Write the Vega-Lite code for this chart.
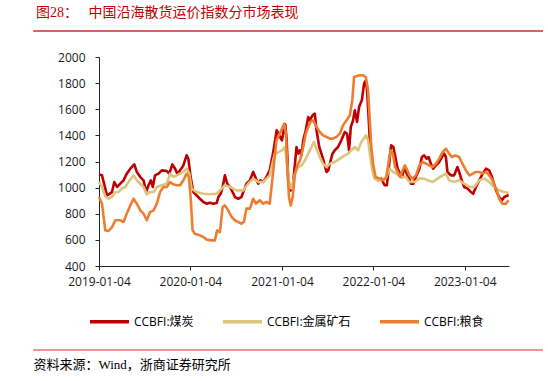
{
"$schema": "https://vega.github.io/schema/vega-lite/v6.json",
"width": 410, "height": 209,
"autosize": {"type": "none"},
"padding": {"left": 99, "top": 57, "right": 39, "bottom": 115},
"background": "white",
"config": {"view": {"stroke": null}, "font": "Open Sans", "axis": {"labelOverlap": false}},
"title": {"text": "图28：　 中国沿海散货运价指数分市场表现", "anchor": "start", "frame": "group", "dx": -63, "offset": 10, "font": "Liberation Serif, Noto Sans CJK SC", "fontSize": 14, "fontWeight": "normal", "color": "#C00000"},
"layer": [
{"data": {"values": [{}]}, "mark": {"type": "rule", "color": "#C8302D", "strokeWidth": 1.5, "clip": false},
 "encoding": {"x": {"datum": {"year": 2018, "month": 4, "date": 16, "utc": true}, "type": "temporal"}, "x2": {"datum": {"year": 2023, "month": 11, "date": 13, "utc": true}},
  "y": {"datum": 2200, "type": "quantitative", "axis": {"values": [400, 600, 800, 1000, 1200, 1400, 1600, 1800, 2000], "format": "d", "labelOverlap": false, "grid": false, "tickSize": 4, "labelPadding": 10, "labelFont": "Open Sans", "labelFontSize": 12, "labelColor": "#1a1a1a", "domainColor": "#262626", "tickColor": "#262626", "title": null, "labelFlush": false}}}},
{"data": {"values": [{}]}, "mark": {"type": "rule", "color": "#E57373", "strokeWidth": 1.5, "clip": false},
 "encoding": {"x": {"datum": {"year": 2018, "month": 4, "date": 16, "utc": true}, "type": "temporal"}, "x2": {"datum": {"year": 2023, "month": 11, "date": 13, "utc": true}},
  "y": {"datum": -243, "type": "quantitative", "axis": {"values": [400, 600, 800, 1000, 1200, 1400, 1600, 1800, 2000], "format": "d", "labelOverlap": false, "grid": false, "tickSize": 4, "labelPadding": 10, "labelFont": "Open Sans", "labelFontSize": 12, "labelColor": "#1a1a1a", "domainColor": "#262626", "tickColor": "#262626", "title": null, "labelFlush": false}}}},
{"data": {"values": [
{"d":"2019-01-04","s":"CCBFI:煤炭","v":1100},{"d":"2019-01-16","s":"CCBFI:煤炭","v":1094},{"d":"2019-02-05","s":"CCBFI:煤炭","v":940},{"d":"2019-02-25","s":"CCBFI:煤炭","v":966},{"d":"2019-03-06","s":"CCBFI:煤炭","v":1043},{"d":"2019-03-17","s":"CCBFI:煤炭","v":1005},{"d":"2019-03-30","s":"CCBFI:煤炭","v":1030},{"d":"2019-04-12","s":"CCBFI:煤炭","v":1056},{"d":"2019-04-25","s":"CCBFI:煤炭","v":1107},{"d":"2019-05-09","s":"CCBFI:煤炭","v":1145},{"d":"2019-05-25","s":"CCBFI:煤炭","v":1178},{"d":"2019-06-04","s":"CCBFI:煤炭","v":1120},{"d":"2019-06-18","s":"CCBFI:煤炭","v":1081},{"d":"2019-07-01","s":"CCBFI:煤炭","v":1056},{"d":"2019-07-11","s":"CCBFI:煤炭","v":966},{"d":"2019-07-21","s":"CCBFI:煤炭","v":1018},{"d":"2019-07-30","s":"CCBFI:煤炭","v":1056},{"d":"2019-08-07","s":"CCBFI:煤炭","v":1005},{"d":"2019-08-16","s":"CCBFI:煤炭","v":1094},{"d":"2019-08-30","s":"CCBFI:煤炭","v":1107},{"d":"2019-09-12","s":"CCBFI:煤炭","v":1132},{"d":"2019-10-02","s":"CCBFI:煤炭","v":1127},{"d":"2019-10-12","s":"CCBFI:煤炭","v":1107},{"d":"2019-10-24","s":"CCBFI:煤炭","v":1178},{"d":"2019-11-04","s":"CCBFI:煤炭","v":1145},{"d":"2019-11-13","s":"CCBFI:煤炭","v":1107},{"d":"2019-11-24","s":"CCBFI:煤炭","v":1132},{"d":"2019-12-07","s":"CCBFI:煤炭","v":1170},{"d":"2019-12-20","s":"CCBFI:煤炭","v":1247},{"d":"2019-12-27","s":"CCBFI:煤炭","v":1222},{"d":"2020-01-05","s":"CCBFI:煤炭","v":1081},{"d":"2020-01-16","s":"CCBFI:煤炭","v":966},{"d":"2020-01-29","s":"CCBFI:煤炭","v":940},{"d":"2020-02-11","s":"CCBFI:煤炭","v":915},{"d":"2020-02-25","s":"CCBFI:煤炭","v":890},{"d":"2020-03-09","s":"CCBFI:煤炭","v":877},{"d":"2020-03-22","s":"CCBFI:煤炭","v":885},{"d":"2020-04-05","s":"CCBFI:煤炭","v":877},{"d":"2020-04-18","s":"CCBFI:煤炭","v":882},{"d":"2020-04-25","s":"CCBFI:煤炭","v":928},{"d":"2020-05-04","s":"CCBFI:煤炭","v":953},{"d":"2020-05-12","s":"CCBFI:煤炭","v":1005},{"d":"2020-05-21","s":"CCBFI:煤炭","v":1094},{"d":"2020-05-30","s":"CCBFI:煤炭","v":1030},{"d":"2020-06-10","s":"CCBFI:煤炭","v":1005},{"d":"2020-06-21","s":"CCBFI:煤炭","v":966},{"d":"2020-06-30","s":"CCBFI:煤炭","v":928},{"d":"2020-07-13","s":"CCBFI:煤炭","v":915},{"d":"2020-07-26","s":"CCBFI:煤炭","v":928},{"d":"2020-08-05","s":"CCBFI:煤炭","v":979},{"d":"2020-08-15","s":"CCBFI:煤炭","v":1030},{"d":"2020-08-29","s":"CCBFI:煤炭","v":1056},{"d":"2020-09-11","s":"CCBFI:煤炭","v":1120},{"d":"2020-09-22","s":"CCBFI:煤炭","v":1069},{"d":"2020-10-01","s":"CCBFI:煤炭","v":1030},{"d":"2020-10-10","s":"CCBFI:煤炭","v":1056},{"d":"2020-10-21","s":"CCBFI:煤炭","v":1043},{"d":"2020-11-03","s":"CCBFI:煤炭","v":1081},{"d":"2020-11-16","s":"CCBFI:煤炭","v":1132},{"d":"2020-11-30","s":"CCBFI:煤炭","v":1270},{"d":"2020-12-14","s":"CCBFI:煤炭","v":1439},{"d":"2020-12-24","s":"CCBFI:煤炭","v":1400},{"d":"2021-01-04","s":"CCBFI:煤炭","v":1362},{"d":"2021-01-12","s":"CCBFI:煤炭","v":1451},{"d":"2021-01-17","s":"CCBFI:煤炭","v":1485},{"d":"2021-01-23","s":"CCBFI:煤炭","v":1362},{"d":"2021-01-29","s":"CCBFI:煤炭","v":1056},{"d":"2021-02-08","s":"CCBFI:煤炭","v":979},{"d":"2021-02-16","s":"CCBFI:煤炭","v":1005},{"d":"2021-02-25","s":"CCBFI:煤炭","v":1183},{"d":"2021-03-03","s":"CCBFI:煤炭","v":1311},{"d":"2021-03-10","s":"CCBFI:煤炭","v":1260},{"d":"2021-03-17","s":"CCBFI:煤炭","v":1286},{"d":"2021-03-23","s":"CCBFI:煤炭","v":1247},{"d":"2021-03-30","s":"CCBFI:煤炭","v":1362},{"d":"2021-04-09","s":"CCBFI:煤炭","v":1439},{"d":"2021-04-19","s":"CCBFI:煤炭","v":1541},{"d":"2021-04-25","s":"CCBFI:煤炭","v":1515},{"d":"2021-05-06","s":"CCBFI:煤炭","v":1554},{"d":"2021-05-15","s":"CCBFI:煤炭","v":1566},{"d":"2021-05-22","s":"CCBFI:煤炭","v":1439},{"d":"2021-06-02","s":"CCBFI:煤炭","v":1311},{"d":"2021-06-15","s":"CCBFI:煤炭","v":1234},{"d":"2021-06-24","s":"CCBFI:煤炭","v":1170},{"d":"2021-07-01","s":"CCBFI:煤炭","v":1120},{"d":"2021-07-08","s":"CCBFI:煤炭","v":1132},{"d":"2021-07-14","s":"CCBFI:煤炭","v":1183},{"d":"2021-07-25","s":"CCBFI:煤炭","v":1260},{"d":"2021-08-03","s":"CCBFI:煤炭","v":1286},{"d":"2021-08-16","s":"CCBFI:煤炭","v":1311},{"d":"2021-08-29","s":"CCBFI:煤炭","v":1362},{"d":"2021-09-12","s":"CCBFI:煤炭","v":1426},{"d":"2021-09-21","s":"CCBFI:煤炭","v":1413},{"d":"2021-09-29","s":"CCBFI:煤炭","v":1286},{"d":"2021-10-06","s":"CCBFI:煤炭","v":1464},{"d":"2021-10-15","s":"CCBFI:煤炭","v":1515},{"d":"2021-10-22","s":"CCBFI:煤炭","v":1592},{"d":"2021-10-31","s":"CCBFI:煤炭","v":1503},{"d":"2021-11-08","s":"CCBFI:煤炭","v":1617},{"d":"2021-11-19","s":"CCBFI:煤炭","v":1668},{"d":"2021-11-28","s":"CCBFI:煤炭","v":1796},{"d":"2021-12-05","s":"CCBFI:煤炭","v":1821},{"d":"2021-12-10","s":"CCBFI:煤炭","v":1745},{"d":"2021-12-16","s":"CCBFI:煤炭","v":1541},{"d":"2021-12-23","s":"CCBFI:煤炭","v":1286},{"d":"2021-12-31","s":"CCBFI:煤炭","v":1158},{"d":"2022-01-09","s":"CCBFI:煤炭","v":1081},{"d":"2022-01-23","s":"CCBFI:煤炭","v":1056},{"d":"2022-02-05","s":"CCBFI:煤炭","v":1069},{"d":"2022-02-18","s":"CCBFI:煤炭","v":1018},{"d":"2022-02-27","s":"CCBFI:煤炭","v":1018},{"d":"2022-03-07","s":"CCBFI:煤炭","v":1158},{"d":"2022-03-16","s":"CCBFI:煤炭","v":1324},{"d":"2022-03-25","s":"CCBFI:煤炭","v":1311},{"d":"2022-04-02","s":"CCBFI:煤炭","v":1234},{"d":"2022-04-11","s":"CCBFI:煤炭","v":1145},{"d":"2022-04-21","s":"CCBFI:煤炭","v":1107},{"d":"2022-04-29","s":"CCBFI:煤炭","v":1081},{"d":"2022-05-08","s":"CCBFI:煤炭","v":1158},{"d":"2022-05-17","s":"CCBFI:煤炭","v":1107},{"d":"2022-05-25","s":"CCBFI:煤炭","v":1081},{"d":"2022-06-03","s":"CCBFI:煤炭","v":1030},{"d":"2022-06-13","s":"CCBFI:煤炭","v":1030},{"d":"2022-06-23","s":"CCBFI:煤炭","v":1081},{"d":"2022-07-07","s":"CCBFI:煤炭","v":1145},{"d":"2022-07-17","s":"CCBFI:煤炭","v":1234},{"d":"2022-07-26","s":"CCBFI:煤炭","v":1247},{"d":"2022-08-05","s":"CCBFI:煤炭","v":1222},{"d":"2022-08-13","s":"CCBFI:煤炭","v":1234},{"d":"2022-08-22","s":"CCBFI:煤炭","v":1183},{"d":"2022-08-31","s":"CCBFI:煤炭","v":1145},{"d":"2022-09-11","s":"CCBFI:煤炭","v":1170},{"d":"2022-09-24","s":"CCBFI:煤炭","v":1196},{"d":"2022-10-05","s":"CCBFI:煤炭","v":1234},{"d":"2022-10-14","s":"CCBFI:煤炭","v":1260},{"d":"2022-10-21","s":"CCBFI:煤炭","v":1234},{"d":"2022-10-27","s":"CCBFI:煤炭","v":1120},{"d":"2022-11-10","s":"CCBFI:煤炭","v":1094},{"d":"2022-11-23","s":"CCBFI:煤炭","v":1094},{"d":"2022-12-06","s":"CCBFI:煤炭","v":1158},{"d":"2022-12-13","s":"CCBFI:煤炭","v":1120},{"d":"2022-12-23","s":"CCBFI:煤炭","v":1056},{"d":"2023-01-02","s":"CCBFI:煤炭","v":1005},{"d":"2023-01-16","s":"CCBFI:煤炭","v":992},{"d":"2023-01-29","s":"CCBFI:煤炭","v":966},{"d":"2023-02-07","s":"CCBFI:煤炭","v":953},{"d":"2023-02-18","s":"CCBFI:煤炭","v":1005},{"d":"2023-03-03","s":"CCBFI:煤炭","v":1056},{"d":"2023-03-17","s":"CCBFI:煤炭","v":1107},{"d":"2023-03-30","s":"CCBFI:煤炭","v":1145},{"d":"2023-04-12","s":"CCBFI:煤炭","v":1132},{"d":"2023-04-23","s":"CCBFI:煤炭","v":1081},{"d":"2023-05-09","s":"CCBFI:煤炭","v":979},{"d":"2023-05-22","s":"CCBFI:煤炭","v":928},{"d":"2023-06-02","s":"CCBFI:煤炭","v":903},{"d":"2023-06-11","s":"CCBFI:煤炭","v":928},{"d":"2023-06-24","s":"CCBFI:煤炭","v":940},{"d":"2023-06-29","s":"CCBFI:煤炭","v":940},
{"d":"2019-01-04","s":"CCBFI:金属矿石","v":1043},{"d":"2019-01-16","s":"CCBFI:金属矿石","v":1005},{"d":"2019-01-29","s":"CCBFI:金属矿石","v":933},{"d":"2019-02-11","s":"CCBFI:金属矿石","v":915},{"d":"2019-02-25","s":"CCBFI:金属矿石","v":928},{"d":"2019-03-10","s":"CCBFI:金属矿石","v":966},{"d":"2019-03-23","s":"CCBFI:金属矿石","v":966},{"d":"2019-04-05","s":"CCBFI:金属矿石","v":992},{"d":"2019-04-19","s":"CCBFI:金属矿石","v":1005},{"d":"2019-05-02","s":"CCBFI:金属矿石","v":1043},{"d":"2019-05-22","s":"CCBFI:金属矿石","v":1094},{"d":"2019-06-04","s":"CCBFI:金属矿石","v":1056},{"d":"2019-06-18","s":"CCBFI:金属矿石","v":1030},{"d":"2019-07-01","s":"CCBFI:金属矿石","v":1005},{"d":"2019-07-14","s":"CCBFI:金属矿石","v":949},{"d":"2019-07-27","s":"CCBFI:金属矿石","v":966},{"d":"2019-08-10","s":"CCBFI:金属矿石","v":966},{"d":"2019-08-23","s":"CCBFI:金属矿石","v":1005},{"d":"2019-09-12","s":"CCBFI:金属矿石","v":1018},{"d":"2019-10-02","s":"CCBFI:金属矿石","v":1030},{"d":"2019-10-15","s":"CCBFI:金属矿石","v":1107},{"d":"2019-10-28","s":"CCBFI:金属矿石","v":1081},{"d":"2019-11-11","s":"CCBFI:金属矿石","v":1094},{"d":"2019-11-24","s":"CCBFI:金属矿石","v":1107},{"d":"2019-12-07","s":"CCBFI:金属矿石","v":1120},{"d":"2019-12-20","s":"CCBFI:金属矿石","v":1145},{"d":"2019-12-31","s":"CCBFI:金属矿石","v":1107},{"d":"2020-01-09","s":"CCBFI:金属矿石","v":992},{"d":"2020-01-29","s":"CCBFI:金属矿石","v":966},{"d":"2020-02-25","s":"CCBFI:金属矿石","v":953},{"d":"2020-03-22","s":"CCBFI:金属矿石","v":949},{"d":"2020-04-18","s":"CCBFI:金属矿石","v":953},{"d":"2020-05-08","s":"CCBFI:金属矿石","v":992},{"d":"2020-05-21","s":"CCBFI:金属矿石","v":1018},{"d":"2020-06-10","s":"CCBFI:金属矿石","v":1005},{"d":"2020-07-06","s":"CCBFI:金属矿石","v":979},{"d":"2020-08-02","s":"CCBFI:金属矿石","v":979},{"d":"2020-08-22","s":"CCBFI:金属矿石","v":1030},{"d":"2020-09-11","s":"CCBFI:金属矿石","v":1069},{"d":"2020-10-01","s":"CCBFI:金属矿石","v":1043},{"d":"2020-10-21","s":"CCBFI:金属矿石","v":1043},{"d":"2020-11-16","s":"CCBFI:金属矿石","v":1094},{"d":"2020-12-06","s":"CCBFI:金属矿石","v":1260},{"d":"2020-12-23","s":"CCBFI:金属矿石","v":1273},{"d":"2021-01-04","s":"CCBFI:金属矿石","v":1286},{"d":"2021-01-16","s":"CCBFI:金属矿石","v":1311},{"d":"2021-01-23","s":"CCBFI:金属矿石","v":1209},{"d":"2021-01-29","s":"CCBFI:金属矿石","v":1081},{"d":"2021-02-05","s":"CCBFI:金属矿石","v":1005},{"d":"2021-02-12","s":"CCBFI:金属矿石","v":992},{"d":"2021-02-25","s":"CCBFI:金属矿石","v":1107},{"d":"2021-03-10","s":"CCBFI:金属矿石","v":1158},{"d":"2021-03-23","s":"CCBFI:金属矿石","v":1170},{"d":"2021-04-06","s":"CCBFI:金属矿石","v":1209},{"d":"2021-04-19","s":"CCBFI:金属矿石","v":1260},{"d":"2021-05-02","s":"CCBFI:金属矿石","v":1311},{"d":"2021-05-11","s":"CCBFI:金属矿石","v":1349},{"d":"2021-05-22","s":"CCBFI:金属矿石","v":1298},{"d":"2021-06-04","s":"CCBFI:金属矿石","v":1234},{"d":"2021-06-17","s":"CCBFI:金属矿石","v":1183},{"d":"2021-07-01","s":"CCBFI:金属矿石","v":1158},{"d":"2021-07-14","s":"CCBFI:金属矿石","v":1183},{"d":"2021-08-03","s":"CCBFI:金属矿石","v":1196},{"d":"2021-08-23","s":"CCBFI:金属矿石","v":1222},{"d":"2021-09-12","s":"CCBFI:金属矿石","v":1247},{"d":"2021-09-25","s":"CCBFI:金属矿石","v":1260},{"d":"2021-10-08","s":"CCBFI:金属矿石","v":1286},{"d":"2021-10-22","s":"CCBFI:金属矿石","v":1311},{"d":"2021-11-04","s":"CCBFI:金属矿石","v":1286},{"d":"2021-11-17","s":"CCBFI:金属矿石","v":1349},{"d":"2021-12-05","s":"CCBFI:金属矿石","v":1400},{"d":"2021-12-14","s":"CCBFI:金属矿石","v":1362},{"d":"2021-12-23","s":"CCBFI:金属矿石","v":1234},{"d":"2021-12-31","s":"CCBFI:金属矿石","v":1132},{"d":"2022-01-09","s":"CCBFI:金属矿石","v":1069},{"d":"2022-01-23","s":"CCBFI:金属矿石","v":1056},{"d":"2022-02-12","s":"CCBFI:金属矿石","v":1061},{"d":"2022-02-25","s":"CCBFI:金属矿石","v":1081},{"d":"2022-03-10","s":"CCBFI:金属矿石","v":1145},{"d":"2022-03-23","s":"CCBFI:金属矿石","v":1120},{"d":"2022-04-05","s":"CCBFI:金属矿石","v":1107},{"d":"2022-04-25","s":"CCBFI:金属矿石","v":1081},{"d":"2022-05-14","s":"CCBFI:金属矿石","v":1081},{"d":"2022-05-28","s":"CCBFI:金属矿石","v":1043},{"d":"2022-06-17","s":"CCBFI:金属矿石","v":1043},{"d":"2022-07-07","s":"CCBFI:金属矿石","v":1069},{"d":"2022-07-26","s":"CCBFI:金属矿石","v":1069},{"d":"2022-08-09","s":"CCBFI:金属矿石","v":1056},{"d":"2022-08-29","s":"CCBFI:金属矿石","v":1043},{"d":"2022-09-18","s":"CCBFI:金属矿石","v":1069},{"d":"2022-10-08","s":"CCBFI:金属矿石","v":1094},{"d":"2022-10-21","s":"CCBFI:金属矿石","v":1107},{"d":"2022-11-03","s":"CCBFI:金属矿石","v":1056},{"d":"2022-11-23","s":"CCBFI:金属矿石","v":1043},{"d":"2022-12-13","s":"CCBFI:金属矿石","v":1056},{"d":"2023-01-02","s":"CCBFI:金属矿石","v":1030},{"d":"2023-01-23","s":"CCBFI:金属矿石","v":1005},{"d":"2023-02-11","s":"CCBFI:金属矿石","v":1005},{"d":"2023-03-03","s":"CCBFI:金属矿石","v":1056},{"d":"2023-03-23","s":"CCBFI:金属矿石","v":1069},{"d":"2023-04-12","s":"CCBFI:金属矿石","v":1043},{"d":"2023-05-02","s":"CCBFI:金属矿石","v":1005},{"d":"2023-05-22","s":"CCBFI:金属矿石","v":979},{"d":"2023-06-11","s":"CCBFI:金属矿石","v":966},{"d":"2023-06-29","s":"CCBFI:金属矿石","v":960},
{"d":"2019-01-04","s":"CCBFI:粮食","v":928},{"d":"2019-01-16","s":"CCBFI:粮食","v":877},{"d":"2019-01-29","s":"CCBFI:粮食","v":673},{"d":"2019-02-11","s":"CCBFI:粮食","v":668},{"d":"2019-02-25","s":"CCBFI:粮食","v":698},{"d":"2019-03-10","s":"CCBFI:粮食","v":750},{"d":"2019-03-30","s":"CCBFI:粮食","v":750},{"d":"2019-04-12","s":"CCBFI:粮食","v":737},{"d":"2019-04-25","s":"CCBFI:粮食","v":801},{"d":"2019-05-09","s":"CCBFI:粮食","v":864},{"d":"2019-05-22","s":"CCBFI:粮食","v":915},{"d":"2019-06-04","s":"CCBFI:粮食","v":877},{"d":"2019-06-18","s":"CCBFI:粮食","v":826},{"d":"2019-07-01","s":"CCBFI:粮食","v":801},{"d":"2019-07-14","s":"CCBFI:粮食","v":750},{"d":"2019-07-27","s":"CCBFI:粮食","v":813},{"d":"2019-08-10","s":"CCBFI:粮食","v":826},{"d":"2019-08-23","s":"CCBFI:粮食","v":877},{"d":"2019-09-05","s":"CCBFI:粮食","v":966},{"d":"2019-09-18","s":"CCBFI:粮食","v":1005},{"d":"2019-10-02","s":"CCBFI:粮食","v":1005},{"d":"2019-10-15","s":"CCBFI:粮食","v":1043},{"d":"2019-10-28","s":"CCBFI:粮食","v":1025},{"d":"2019-11-11","s":"CCBFI:粮食","v":1018},{"d":"2019-11-24","s":"CCBFI:粮食","v":1018},{"d":"2019-12-07","s":"CCBFI:粮食","v":1056},{"d":"2019-12-20","s":"CCBFI:粮食","v":1107},{"d":"2019-12-29","s":"CCBFI:粮食","v":1081},{"d":"2020-01-05","s":"CCBFI:粮食","v":928},{"d":"2020-01-13","s":"CCBFI:粮食","v":673},{"d":"2020-01-22","s":"CCBFI:粮食","v":647},{"d":"2020-02-11","s":"CCBFI:粮食","v":635},{"d":"2020-02-25","s":"CCBFI:粮食","v":622},{"d":"2020-03-09","s":"CCBFI:粮食","v":602},{"d":"2020-03-29","s":"CCBFI:粮食","v":596},{"d":"2020-04-11","s":"CCBFI:粮食","v":596},{"d":"2020-04-20","s":"CCBFI:粮食","v":673},{"d":"2020-05-01","s":"CCBFI:粮食","v":660},{"d":"2020-05-12","s":"CCBFI:粮食","v":852},{"d":"2020-05-21","s":"CCBFI:粮食","v":864},{"d":"2020-06-03","s":"CCBFI:粮食","v":826},{"d":"2020-06-17","s":"CCBFI:粮食","v":775},{"d":"2020-06-30","s":"CCBFI:粮食","v":750},{"d":"2020-07-13","s":"CCBFI:粮食","v":737},{"d":"2020-07-26","s":"CCBFI:粮食","v":724},{"d":"2020-08-05","s":"CCBFI:粮食","v":737},{"d":"2020-08-15","s":"CCBFI:粮食","v":839},{"d":"2020-08-29","s":"CCBFI:粮食","v":839},{"d":"2020-09-11","s":"CCBFI:粮食","v":915},{"d":"2020-09-22","s":"CCBFI:粮食","v":877},{"d":"2020-10-07","s":"CCBFI:粮食","v":903},{"d":"2020-10-21","s":"CCBFI:粮食","v":877},{"d":"2020-11-03","s":"CCBFI:粮食","v":890},{"d":"2020-11-16","s":"CCBFI:粮食","v":877},{"d":"2020-11-29","s":"CCBFI:粮食","v":1107},{"d":"2020-12-13","s":"CCBFI:粮食","v":1362},{"d":"2020-12-26","s":"CCBFI:粮食","v":1413},{"d":"2021-01-13","s":"CCBFI:粮食","v":1490},{"d":"2021-01-20","s":"CCBFI:粮食","v":1413},{"d":"2021-01-25","s":"CCBFI:粮食","v":1158},{"d":"2021-02-01","s":"CCBFI:粮食","v":928},{"d":"2021-02-08","s":"CCBFI:粮食","v":864},{"d":"2021-02-16","s":"CCBFI:粮食","v":928},{"d":"2021-02-25","s":"CCBFI:粮食","v":1107},{"d":"2021-03-06","s":"CCBFI:粮食","v":1170},{"d":"2021-03-17","s":"CCBFI:粮食","v":1209},{"d":"2021-03-30","s":"CCBFI:粮食","v":1311},{"d":"2021-04-09","s":"CCBFI:粮食","v":1413},{"d":"2021-04-19","s":"CCBFI:粮食","v":1464},{"d":"2021-04-28","s":"CCBFI:粮食","v":1503},{"d":"2021-05-09","s":"CCBFI:粮食","v":1515},{"d":"2021-05-22","s":"CCBFI:粮食","v":1464},{"d":"2021-06-04","s":"CCBFI:粮食","v":1426},{"d":"2021-06-17","s":"CCBFI:粮食","v":1400},{"d":"2021-07-01","s":"CCBFI:粮食","v":1388},{"d":"2021-07-14","s":"CCBFI:粮食","v":1375},{"d":"2021-07-27","s":"CCBFI:粮食","v":1375},{"d":"2021-08-10","s":"CCBFI:粮食","v":1388},{"d":"2021-08-23","s":"CCBFI:粮食","v":1413},{"d":"2021-09-05","s":"CCBFI:粮食","v":1477},{"d":"2021-09-19","s":"CCBFI:粮食","v":1515},{"d":"2021-10-02","s":"CCBFI:粮食","v":1554},{"d":"2021-10-12","s":"CCBFI:粮食","v":1668},{"d":"2021-10-19","s":"CCBFI:粮食","v":1847},{"d":"2021-10-28","s":"CCBFI:粮食","v":1852},{"d":"2021-11-10","s":"CCBFI:粮食","v":1860},{"d":"2021-11-24","s":"CCBFI:粮食","v":1860},{"d":"2021-12-05","s":"CCBFI:粮食","v":1847},{"d":"2021-12-14","s":"CCBFI:粮食","v":1745},{"d":"2021-12-20","s":"CCBFI:粮食","v":1541},{"d":"2021-12-27","s":"CCBFI:粮食","v":1311},{"d":"2022-01-03","s":"CCBFI:粮食","v":1183},{"d":"2022-01-13","s":"CCBFI:粮食","v":1081},{"d":"2022-01-29","s":"CCBFI:粮食","v":1069},{"d":"2022-02-12","s":"CCBFI:粮食","v":1056},{"d":"2022-02-25","s":"CCBFI:粮食","v":1081},{"d":"2022-03-07","s":"CCBFI:粮食","v":1209},{"d":"2022-03-14","s":"CCBFI:粮食","v":1286},{"d":"2022-03-23","s":"CCBFI:粮食","v":1260},{"d":"2022-04-01","s":"CCBFI:粮食","v":1158},{"d":"2022-04-11","s":"CCBFI:粮食","v":1120},{"d":"2022-04-21","s":"CCBFI:粮食","v":1081},{"d":"2022-05-01","s":"CCBFI:粮食","v":1132},{"d":"2022-05-10","s":"CCBFI:粮食","v":1170},{"d":"2022-05-20","s":"CCBFI:粮食","v":1132},{"d":"2022-05-28","s":"CCBFI:粮食","v":1094},{"d":"2022-06-10","s":"CCBFI:粮食","v":1069},{"d":"2022-06-23","s":"CCBFI:粮食","v":1094},{"d":"2022-07-07","s":"CCBFI:粮食","v":1170},{"d":"2022-07-20","s":"CCBFI:粮食","v":1196},{"d":"2022-08-02","s":"CCBFI:粮食","v":1183},{"d":"2022-08-15","s":"CCBFI:粮食","v":1170},{"d":"2022-08-29","s":"CCBFI:粮食","v":1158},{"d":"2022-09-11","s":"CCBFI:粮食","v":1183},{"d":"2022-09-24","s":"CCBFI:粮食","v":1222},{"d":"2022-10-08","s":"CCBFI:粮食","v":1273},{"d":"2022-10-21","s":"CCBFI:粮食","v":1298},{"d":"2022-11-03","s":"CCBFI:粮食","v":1260},{"d":"2022-11-14","s":"CCBFI:粮食","v":1234},{"d":"2022-11-27","s":"CCBFI:粮食","v":1247},{"d":"2022-12-13","s":"CCBFI:粮食","v":1234},{"d":"2022-12-26","s":"CCBFI:粮食","v":1183},{"d":"2023-01-09","s":"CCBFI:粮食","v":1132},{"d":"2023-01-23","s":"CCBFI:粮食","v":1094},{"d":"2023-02-05","s":"CCBFI:粮食","v":1107},{"d":"2023-02-18","s":"CCBFI:粮食","v":1120},{"d":"2023-03-03","s":"CCBFI:粮食","v":1120},{"d":"2023-03-17","s":"CCBFI:粮食","v":1107},{"d":"2023-03-30","s":"CCBFI:粮食","v":1120},{"d":"2023-04-12","s":"CCBFI:粮食","v":1094},{"d":"2023-04-25","s":"CCBFI:粮食","v":1056},{"d":"2023-05-09","s":"CCBFI:粮食","v":992},{"d":"2023-05-22","s":"CCBFI:粮食","v":915},{"d":"2023-06-04","s":"CCBFI:粮食","v":877},{"d":"2023-06-18","s":"CCBFI:粮食","v":877},{"d":"2023-06-28","s":"CCBFI:粮食","v":903}
]},
 "mark": {"type": "line", "strokeWidth": 2.6, "strokeJoin": "round"},
 "encoding": {
  "x": {"field": "d", "type": "temporal",
        "scale": {"type": "utc", "domain": [{"year": 2019, "month": 1, "date": 4, "utc": true}, {"year": 2023, "month": 6, "date": 30, "utc": true}]},
        "axis": {"values": [{"year": 2019, "month": 1, "date": 4, "utc": true}, {"year": 2020, "month": 1, "date": 4, "utc": true}, {"year": 2021, "month": 1, "date": 4, "utc": true}, {"year": 2022, "month": 1, "date": 4, "utc": true}, {"year": 2023, "month": 1, "date": 4, "utc": true}],
                 "format": "%Y-%m-%d", "grid": false, "tickSize": 4, "labelPadding": 6, "labelFont": "Open Sans", "labelFontSize": 12, "labelColor": "#1a1a1a", "domainColor": "#262626", "tickColor": "#262626", "labelFlush": false, "labelOverlap": false,
                 "title": "资料来源：Wind，浙商证券研究所", "titleX": -66, "titleY": 98, "titleAlign": "left", "titleAnchor": "start", "titleBaseline": "middle", "titleFont": "Liberation Serif, Noto Sans CJK SC", "titleFontSize": 13, "titleFontWeight": "normal", "titleColor": "#000000"}},
  "y": {"field": "v", "type": "quantitative",
        "scale": {"domain": [400, 2000], "nice": false, "zero": false},
        "axis": {"values": [400, 600, 800, 1000, 1200, 1400, 1600, 1800, 2000], "format": "d", "labelOverlap": false, "grid": false, "tickSize": 4, "labelPadding": 10, "labelFont": "Open Sans", "labelFontSize": 12, "labelColor": "#1a1a1a", "domainColor": "#262626", "tickColor": "#262626", "title": null, "labelFlush": false}},
  "color": {"field": "s", "type": "nominal",
        "scale": {"domain": ["CCBFI:煤炭", "CCBFI:金属矿石", "CCBFI:粮食"], "range": ["#C00000", "#DCC47D", "#ED7D31"]},
        "legend": {"orient": "none", "legendX": -11, "legendY": 243, "direction": "horizontal", "title": null, "symbolType": "stroke", "symbolSize": 1521, "symbolStrokeWidth": 3.5, "labelFontSize": 12, "labelFont": "Open Sans, Noto Sans CJK SC", "labelColor": "#000000", "columnPadding": 22, "labelOffset": 3}}
 }}
]
}
